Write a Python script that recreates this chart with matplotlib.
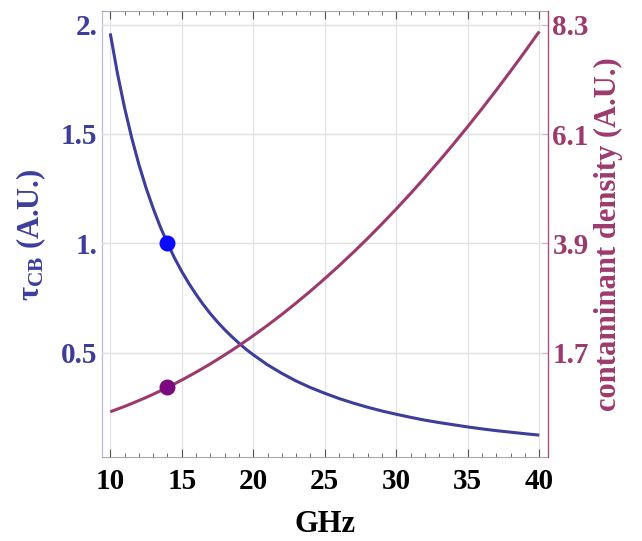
import matplotlib
matplotlib.use("Agg")
import matplotlib.pyplot as plt

# ---- data ----
freq_ghz = [10, 10.5, 11, 11.5, 12, 12.5, 13, 13.5, 14, 14.5, 15, 15.5, 16, 16.5,
            17, 17.5, 18, 18.5, 19, 19.5, 20, 21, 22, 23, 24, 25, 26, 27, 28, 29,
            30, 31, 32, 33, 34, 35, 36, 37, 38, 39, 40]
tau_cb = [1.960, 1.778, 1.620, 1.482, 1.361, 1.254, 1.160, 1.075, 1.000, 0.932,
          0.871, 0.816, 0.766, 0.720, 0.678, 0.640, 0.605, 0.573, 0.543, 0.515,
          0.490, 0.444, 0.405, 0.370, 0.340, 0.314, 0.290, 0.269, 0.250, 0.233,
          0.218, 0.204, 0.191, 0.180, 0.170, 0.160, 0.151, 0.143, 0.136, 0.129,
          0.1225]
contaminant = [0.510, 0.563, 0.617, 0.675, 0.735, 0.797, 0.862, 0.930, 1.000, 1.073,
               1.148, 1.226, 1.306, 1.389, 1.474, 1.563, 1.653, 1.746, 1.842, 1.940,
               2.041, 2.250, 2.469, 2.699, 2.939, 3.189, 3.449, 3.719, 4.000, 4.291,
               4.592, 4.903, 5.224, 5.556, 5.898, 6.250, 6.612, 6.985, 7.367, 7.760,
               8.163]
marker_freq = [14]
marker_tau = [1.0]
marker_contaminant = [1.0]

x_ticks = [10, 15, 20, 25, 30, 35, 40]
x_tick_labels = ["10", "15", "20", "25", "30", "35", "40"]
left_ticks = [0.5, 1.0, 1.5, 2.0]
left_tick_labels = ["0.5", "1.", "1.5", "2."]
right_ticks = [1.7, 3.9, 6.1, 8.3]
right_tick_labels = ["1.7", "3.9", "6.1", "8.3"]

# ---- style ----
BLUE = "#3d3d9c"
MAROON = "#9c3a6e"
PT_BLUE = "#0a0aff"
PT_PURPLE = "#7a0a7e"
GRID = "#e2e2e2"
SERIF = "Liberation Serif"

plt.rcParams["mathtext.fontset"] = "custom"
plt.rcParams["mathtext.rm"] = "Liberation Serif:bold"
plt.rcParams["mathtext.it"] = "Liberation Serif:bold"
plt.rcParams["mathtext.bf"] = "Liberation Serif:bold"

fig = plt.figure(figsize=(6.42, 5.41), dpi=100)
ax = fig.add_axes([0.1584, 0.1558, 0.6956, 0.8239])
ax2 = ax.twinx()

ax.set_xlim(9.4, 40.63)
ax.set_ylim(0.0238, 2.0627)
ax2.set_ylim(-0.395, 8.576)

# grids
ax.set_xticks(x_ticks)
ax.set_xticks(range(10, 41), minor=True)
ax.set_yticks(left_ticks)
ax2.set_yticks(right_ticks)
ax.grid(True, which="major", color=GRID, lw=0.9)
ax2.grid(True, axis="y", color=GRID, lw=0.9)
ax2.set_axisbelow(True)

# curves (drawn in ax2 so they sit above every grid line)
ax2.plot(freq_ghz, tau_cb, color=BLUE, lw=2.2, transform=ax.transData,
         solid_capstyle="butt", zorder=3)
ax2.plot(freq_ghz, contaminant, color=MAROON, lw=2.2, solid_capstyle="butt", zorder=3)
ax2.plot(marker_freq, marker_tau, "o", color=PT_BLUE, ms=11.5, mec="none",
         transform=ax.transData, zorder=4)
ax2.plot(marker_freq, marker_contaminant, "o", color=PT_PURPLE, ms=11.5, mec="none",
         zorder=4)

# tick labels
tick_font = dict(family=SERIF, weight="bold", size=21)
ax.set_xticklabels(x_tick_labels, fontdict=tick_font, color="black")
ax.set_yticklabels(left_tick_labels, fontdict=tick_font, color=BLUE)
ax2.set_yticklabels(right_tick_labels, fontdict=tick_font, color=MAROON)

ax.tick_params(axis="x", which="both", direction="in", top=True, bottom=True,
               color="#555555", pad=8)
ax.tick_params(axis="x", which="major", length=6, width=0.8)
ax.tick_params(axis="x", which="minor", length=3, width=0.6)
ax.tick_params(axis="y", direction="in", length=4, width=0.8, color="#c0c0e0", pad=3)
ax2.tick_params(axis="y", direction="in", length=4, width=0.8, color="#d8b0c8", pad=3)

# spines
for s in ["top", "bottom"]:
    ax.spines[s].set_color("#a8a8a8")
    ax.spines[s].set_linewidth(0.8)
ax.spines["left"].set_color("#b8b8e0")
ax.spines["left"].set_linewidth(0.9)
ax.spines["right"].set_visible(False)
for s in ["top", "bottom", "left"]:
    ax2.spines[s].set_visible(False)
ax2.spines["right"].set_color("#a8507f")
ax2.spines["right"].set_linewidth(1.0)

# axis labels
label_font = dict(family=SERIF, weight="bold", size=22)
ax.text(0.501, -0.153, "GHz", transform=ax.transAxes, ha="center", va="center",
        color="black", **label_font)
ax.text(-0.158, 0.497, r"$τ_{\rm CB}$ (A.U.)", transform=ax.transAxes,
        ha="center", va="center", rotation=90, rotation_mode="anchor",
        color=BLUE, **label_font)
ax.text(1.134, 0.5, "contaminant density (A.U.)", transform=ax.transAxes,
        ha="center", va="center", rotation=90, rotation_mode="anchor",
        color=MAROON, **label_font)

fig.savefig("out.png", dpi=100)
